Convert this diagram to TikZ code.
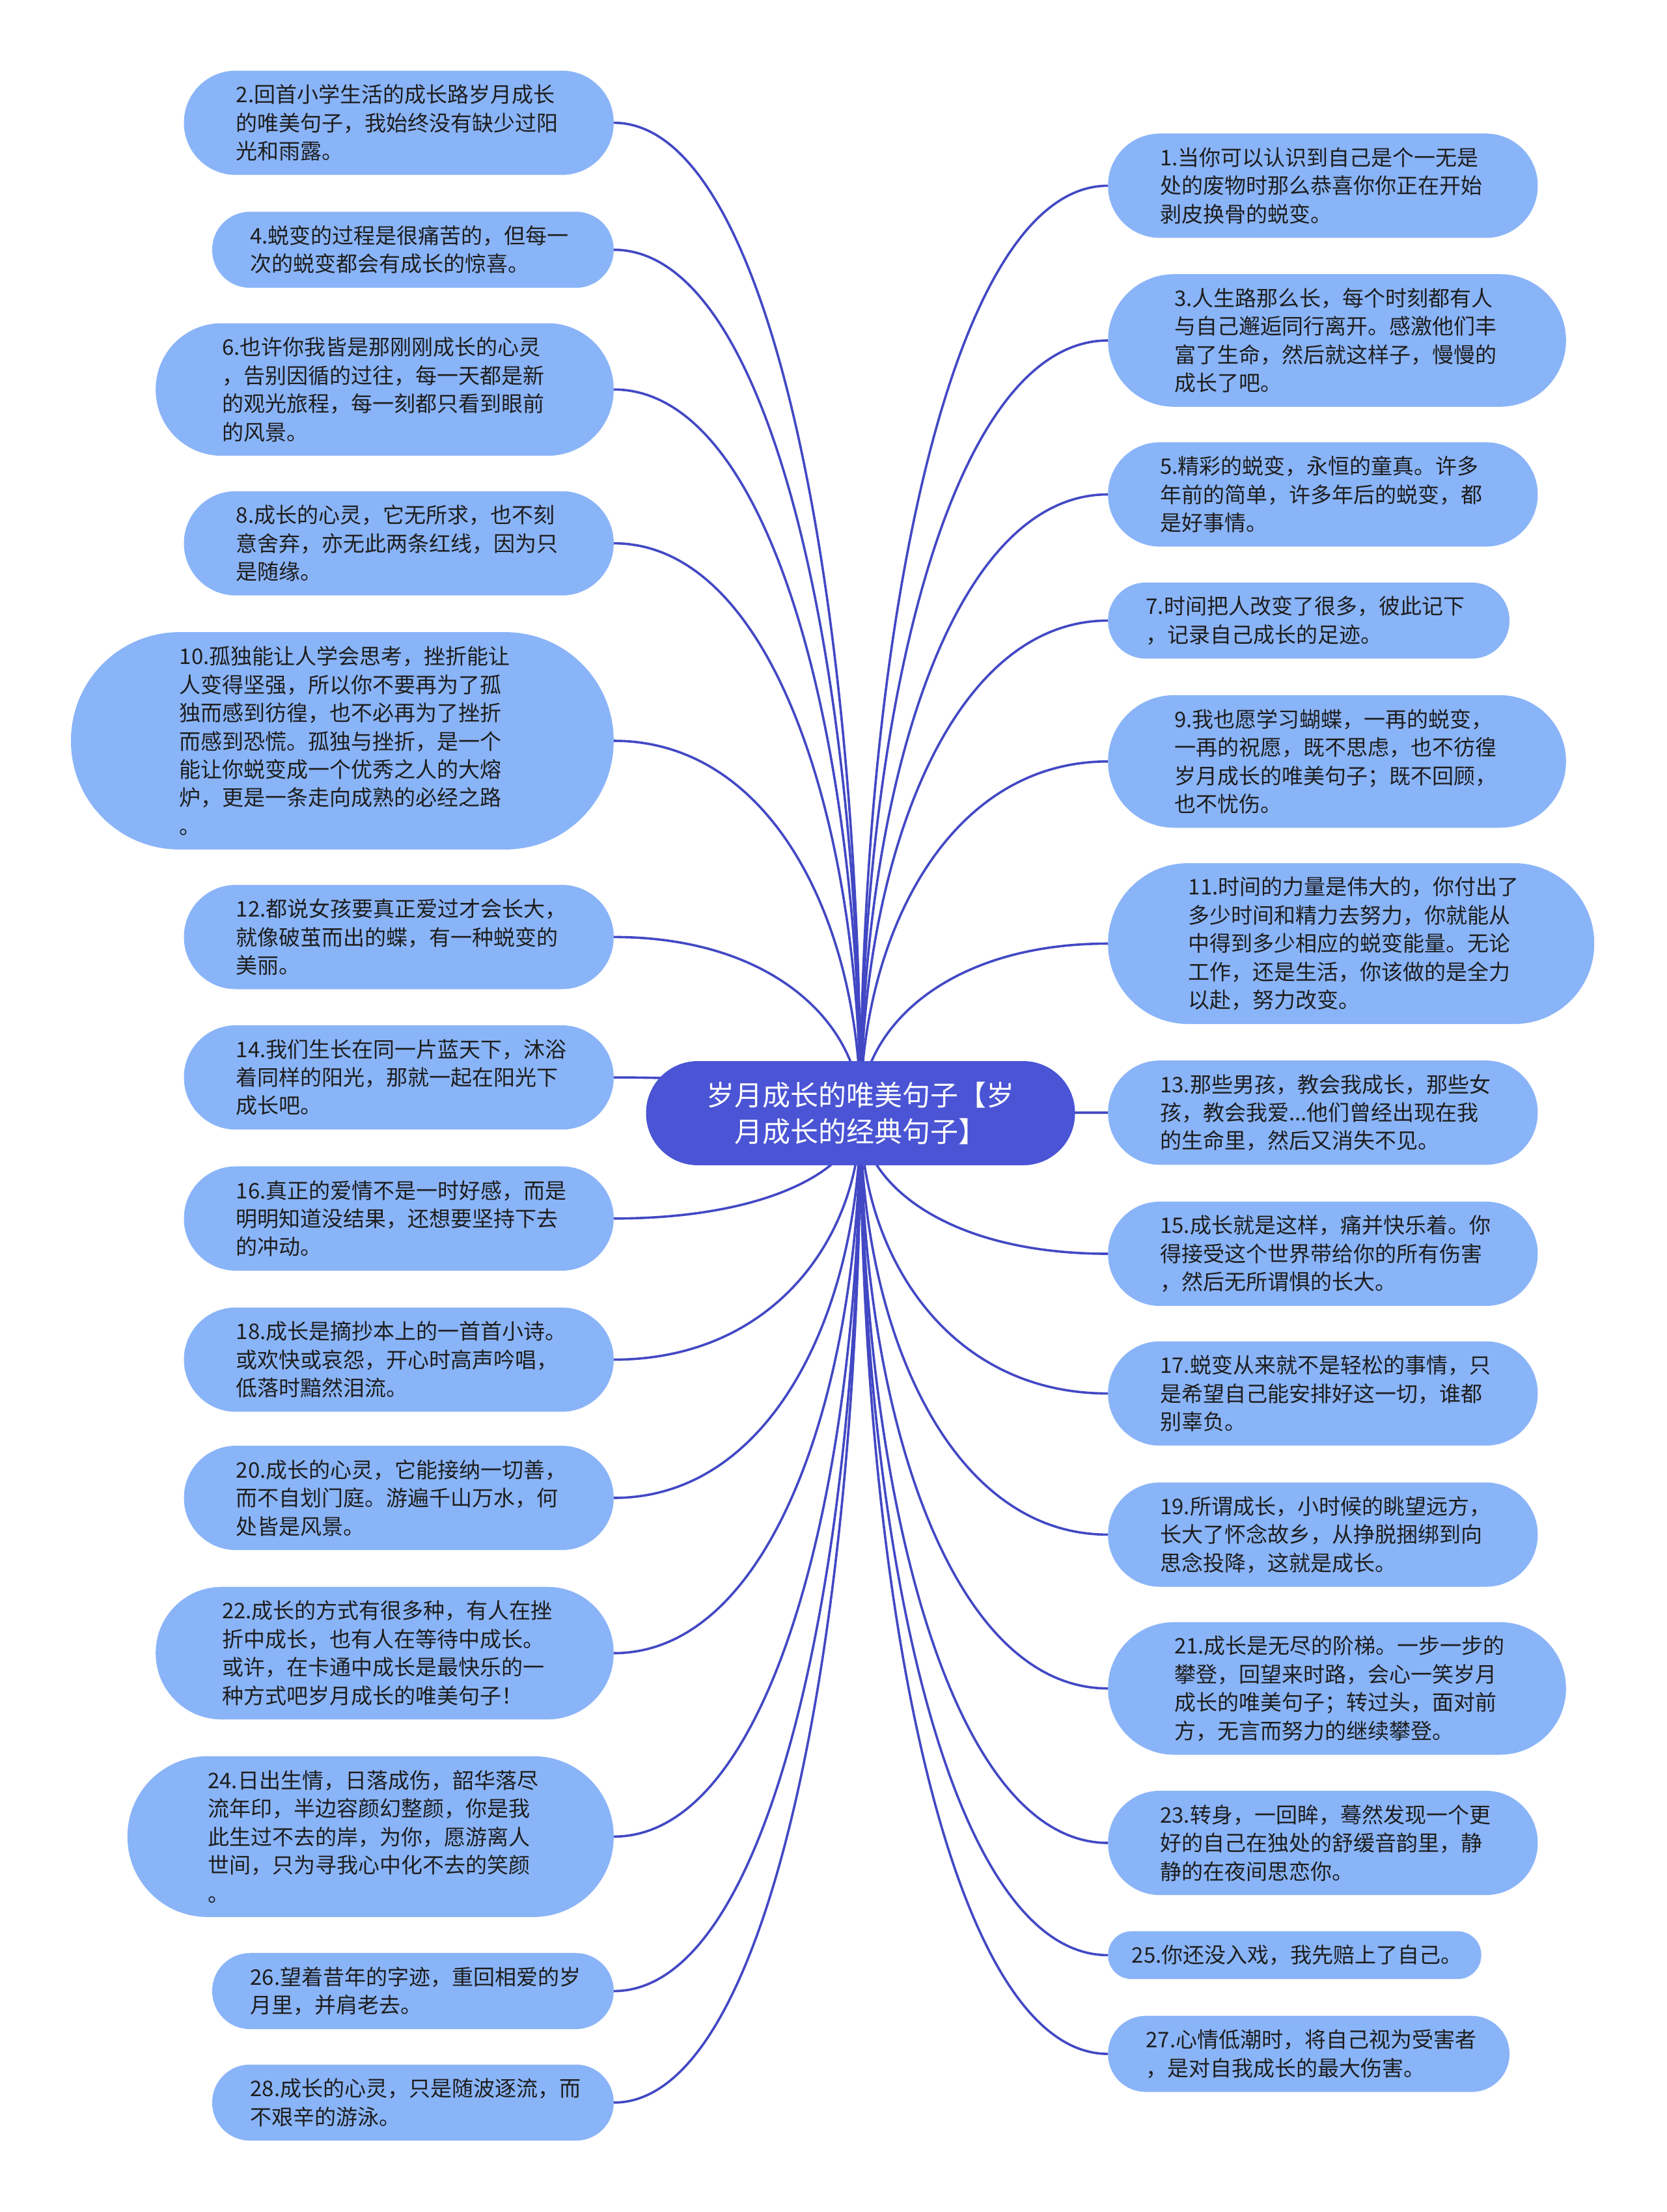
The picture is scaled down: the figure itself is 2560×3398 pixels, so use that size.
\documentclass[tikz,border=0pt]{standalone}
\usepackage{fontspec}
\setmainfont{Noto Sans CJK SC}
\usetikzlibrary{calc}
\definecolor{leaffill}{RGB}{138,180,248}
\definecolor{rootfill}{RGB}{74,84,212}
\definecolor{linecol}{RGB}{66,72,196}
\definecolor{txtcol}{RGB}{30,30,30}
\pgfdeclarelayer{bg}
\pgfsetlayers{bg,main}
\tikzset{
  leaf/.style={fill=leaffill, draw=none, text=txtcol,
    font=\fontsize{33}{43.4}\selectfont, text width=500pt, align=left,
    inner ysep=0pt, minimum height={43.4*#1+30},
    inner xsep={(43.4*#1+30)/2}, rounded corners={(43.4*#1+30)/2-0.5}},
  leafL/.style={leaf=#1, anchor=east},
  leafR/.style={leaf=#1, anchor=west},
  rootnode/.style={fill=rootfill, draw=none, text=white,
    font=\fontsize{43}{56}\selectfont, align=center,
    minimum width=659pt, minimum height=160pt, inner xsep=20pt,
    rounded corners=79.5pt},
  conn/.style={draw=linecol, line width=3.6pt},
}
\begin{document}
\begin{tikzpicture}[x=1pt,y=-1pt]
\useasboundingbox (0,0) rectangle (2560,3398);
\begin{pgfonlayer}{bg}
\fill[white] (0,0) rectangle (2560,3398);
\end{pgfonlayer}

\node[rootnode] (root) at (1322,1710) {岁月成长的唯美句子【岁\\月成长的经典句子】};

% left side
\node[leafL=3] (L2) at (943,188.6) {2.回首小学生活的成长路岁月成长\\的唯美句子，我始终没有缺少过阳\\光和雨露。};
\node[leafL=2] (L4) at (943,383.7) {4.蜕变的过程是很痛苦的，但每一\\次的蜕变都会有成长的惊喜。};
\node[leafL=4] (L6) at (943,598.3) {6.也许你我皆是那刚刚成长的心灵\\，告别因循的过往，每一天都是新\\的观光旅程，每一刻都只看到眼前\\的风景。};
\node[leafL=3] (L8) at (943,834.6) {8.成长的心灵，它无所求，也不刻\\意舍弃，亦无此两条红线，因为只\\是随缘。};
\node[leafL=7] (L10) at (943,1138) {10.孤独能让人学会思考，挫折能让\\人变得坚强，所以你不要再为了孤\\独而感到彷徨，也不必再为了挫折\\而感到恐慌。孤独与挫折，是一个\\能让你蜕变成一个优秀之人的大熔\\炉，更是一条走向成熟的必经之路\\。};
\node[leafL=3] (L12) at (943,1439.4) {12.都说女孩要真正爱过才会长大，\\就像破茧而出的蝶，有一种蜕变的\\美丽。};
\node[leafL=3] (L14) at (943,1655.1) {14.我们生长在同一片蓝天下，沐浴\\着同样的阳光，那就一起在阳光下\\成长吧。};
\node[leafL=3] (L16) at (943,1871.8) {16.真正的爱情不是一时好感，而是\\明明知道没结果，还想要坚持下去\\的冲动。};
\node[leafL=3] (L18) at (943,2088.6) {18.成长是摘抄本上的一首首小诗。\\或欢快或哀怨，开心时高声吟唱，\\低落时黯然泪流。};
\node[leafL=3] (L20) at (943,2301) {20.成长的心灵，它能接纳一切善，\\而不自划门庭。游遍千山万水，何\\处皆是风景。};
\node[leafL=4] (L22) at (943,2539.5) {22.成长的方式有很多种，有人在挫\\折中成长，也有人在等待中成长。\\或许，在卡通中成长是最快乐的一\\种方式吧岁月成长的唯美句子！};
\node[leafL=5] (L24) at (943,2821.3) {24.日出生情，日落成伤，韶华落尽\\流年印，半边容颜幻整颜，你是我\\此生过不去的岸，为你，愿游离人\\世间，只为寻我心中化不去的笑颜\\。};
\node[leafL=2] (L26) at (943,3058.6) {26.望着昔年的字迹，重回相爱的岁\\月里，并肩老去。};
\node[leafL=2] (L28) at (943,3229.9) {28.成长的心灵，只是随波逐流，而\\不艰辛的游泳。};

% right side
\node[leafR=3] (R1) at (1702,285.3) {1.当你可以认识到自己是个一无是\\处的废物时那么恭喜你你正在开始\\剥皮换骨的蜕变。};
\node[leafR=4] (R3) at (1702,523) {3.人生路那么长，每个时刻都有人\\与自己邂逅同行离开。感激他们丰\\富了生命，然后就这样子，慢慢的\\成长了吧。};
\node[leafR=3] (R5) at (1702,759.5) {5.精彩的蜕变，永恒的童真。许多\\年前的简单，许多年后的蜕变，都\\是好事情。};
\node[leafR=2] (R7) at (1702,953.3) {7.时间把人改变了很多，彼此记下\\，记录自己成长的足迹。};
\node[leafR=4] (R9) at (1702,1169.7) {9.我也愿学习蝴蝶，一再的蜕变，\\一再的祝愿，既不思虑，也不彷徨\\岁月成长的唯美句子；既不回顾，\\也不忧伤。};
\node[leafR=5] (R11) at (1702,1449.5) {11.时间的力量是伟大的，你付出了\\多少时间和精力去努力，你就能从\\中得到多少相应的蜕变能量。无论\\工作，还是生活，你该做的是全力\\以赴，努力改变。};
\node[leafR=3] (R13) at (1702,1709.2) {13.那些男孩，教会我成长，那些女\\孩，教会我爱...他们曾经出现在我\\的生命里，然后又消失不见。};
\node[leafR=3] (R15) at (1702,1926) {15.成长就是这样，痛并快乐着。你\\得接受这个世界带给你的所有伤害\\，然后无所谓惧的长大。};
\node[leafR=3] (R17) at (1702,2140.6) {17.蜕变从来就不是轻松的事情，只\\是希望自己能安排好这一切，谁都\\别辜负。};
\node[leafR=3] (R19) at (1702,2357.4) {19.所谓成长，小时候的眺望远方，\\长大了怀念故乡，从挣脱捆绑到向\\思念投降，这就是成长。};
\node[leafR=4] (R21) at (1702,2593.7) {21.成长是无尽的阶梯。一步一步的\\攀登，回望来时路，会心一笑岁月\\成长的唯美句子；转过头，面对前\\方，无言而努力的继续攀登。};
\node[leafR=3] (R23) at (1702,2831) {23.转身，一回眸，蓦然发现一个更\\好的自己在独处的舒缓音韵里，静\\静的在夜间思恋你。};
\node[leafR=1] (R25) at (1702,3003.4) {25.你还没入戏，我先赔上了自己。};
\node[leafR=2] (R27) at (1702,3155.1) {27.心情低潮时，将自己视为受害者\\，是对自我成长的最大伤害。};

\begin{pgfonlayer}{bg}
\foreach \n in {L2,L4,L6,L8,L10,L12,L14,L16,L18,L20,L22,L24,L26,L28} {
  \draw[conn] (root.center) .. controls ($(root.center)!0.5!(root.center |- \n.east)$)
    and ($(\n.east -| root.center)!0.35!(\n.east)$) .. (\n.east);
}
\foreach \n in {R1,R3,R5,R7,R9,R11,R13,R15,R17,R19,R21,R23,R25,R27} {
  \draw[conn] (root.center) .. controls ($(root.center)!0.5!(root.center |- \n.west)$)
    and ($(\n.west -| root.center)!0.35!(\n.west)$) .. (\n.west);
}
\end{pgfonlayer}
\end{tikzpicture}
\end{document}
